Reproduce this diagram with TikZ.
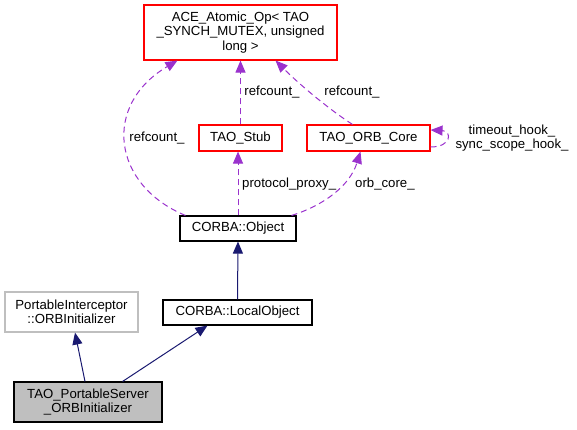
\documentclass[tikz,border=0pt]{standalone}
\usepackage{fontspec}
\setmainfont{Liberation Sans}
\usetikzlibrary{arrows.meta}
\definecolor{dred}{HTML}{FF0000}
\definecolor{lgray}{HTML}{BFBFBF}
\definecolor{navy}{HTML}{191970}
\definecolor{orchid}{HTML}{9A32CD}
\begin{document}
\begin{tikzpicture}[x=1pt,y=-1pt,
  every node/.style={font=\fontsize{13.2}{14.5}\selectfont, align=center, inner sep=0pt},
  box/.style={draw, line width=1.1pt, rectangle},
  redbox/.style={box, draw=dred},
  dep/.style={draw=orchid, dashed, dash pattern=on 6pt off 4pt, line width=1pt, -{Triangle[length=12pt,width=10pt]}},
  inh/.style={draw=navy, line width=1pt, -{Triangle[length=12pt,width=10pt]}},
  lbl/.style={fill=none}]
\useasboundingbox (0,0) rectangle (577,429);
\node[redbox, minimum width=193pt, minimum height=55pt] (ace) at (240.5,32.5) {ACE\_Atomic\_Op< TAO\\\_SYNCH\_MUTEX, unsigned\\long >};
\node[redbox, minimum width=83pt, minimum height=26pt] (stub) at (240.5,138) {TAO\_Stub};
\node[redbox, minimum width=123pt, minimum height=26pt] (orb) at (368.5,138) {TAO\_ORB\_Core};
\node[box, minimum width=116pt, minimum height=25pt] (obj) at (238,228.5) {CORBA::Object};
\node[box, minimum width=149pt, minimum height=25pt] (lo) at (237.5,312.5) {CORBA::LocalObject};
\node[box, draw=lgray, minimum width=133pt, minimum height=40pt] (pi) at (71.5,312) {PortableInterceptor\\::ORBInitializer};
\node[box, fill=lgray, minimum width=148pt, minimum height=40pt] (ps) at (88,402) {TAO\_PortableServer\\\_ORBInitializer};

\draw[dep] ([xshift=6pt]obj.north west) .. controls (112,185) and (102,105) .. ([xshift=34pt]ace.south west);
\node[lbl] (l1) at (157,138) {refcount\_};
\draw[dep] (stub.north) -- (stub.north |- ace.south);
\node[lbl] (l2) at (272,92) {refcount\_};
\draw[dep] ([xshift=-16pt]orb.north) .. controls (330,110) and (300,85) .. ([xshift=-62pt]ace.south east);
\node[lbl] (l3) at (352,92) {refcount\_};
\draw[dep] (obj.north) -- (obj.north |- stub.south);
\node[lbl, anchor=west] (l4) at (242,184) {protocol\_proxy\_};
\draw[dep] ([xshift=-5pt]obj.north east) .. controls (325,205) and (350,185) .. ([xshift=-8pt]orb.south);
\node[lbl, anchor=west] (l5) at (355,184) {orb\_core\_};
\draw[dep] ([yshift=-9pt]orb.east) .. controls (452,147) and (452,131) .. ([yshift=8pt]orb.east);
\node[lbl] (l6) at (512,138) {timeout\_hook\_\\sync\_scope\_hook\_};

\draw[inh] (lo.north) -- (obj.south);
\draw[inh] ([xshift=-3pt]ps.north) -- ([xshift=3.5pt]pi.south);
\draw[inh] ([xshift=-40pt]ps.north east) -- ([xshift=-30pt]lo.south);
\end{tikzpicture}
\end{document}
